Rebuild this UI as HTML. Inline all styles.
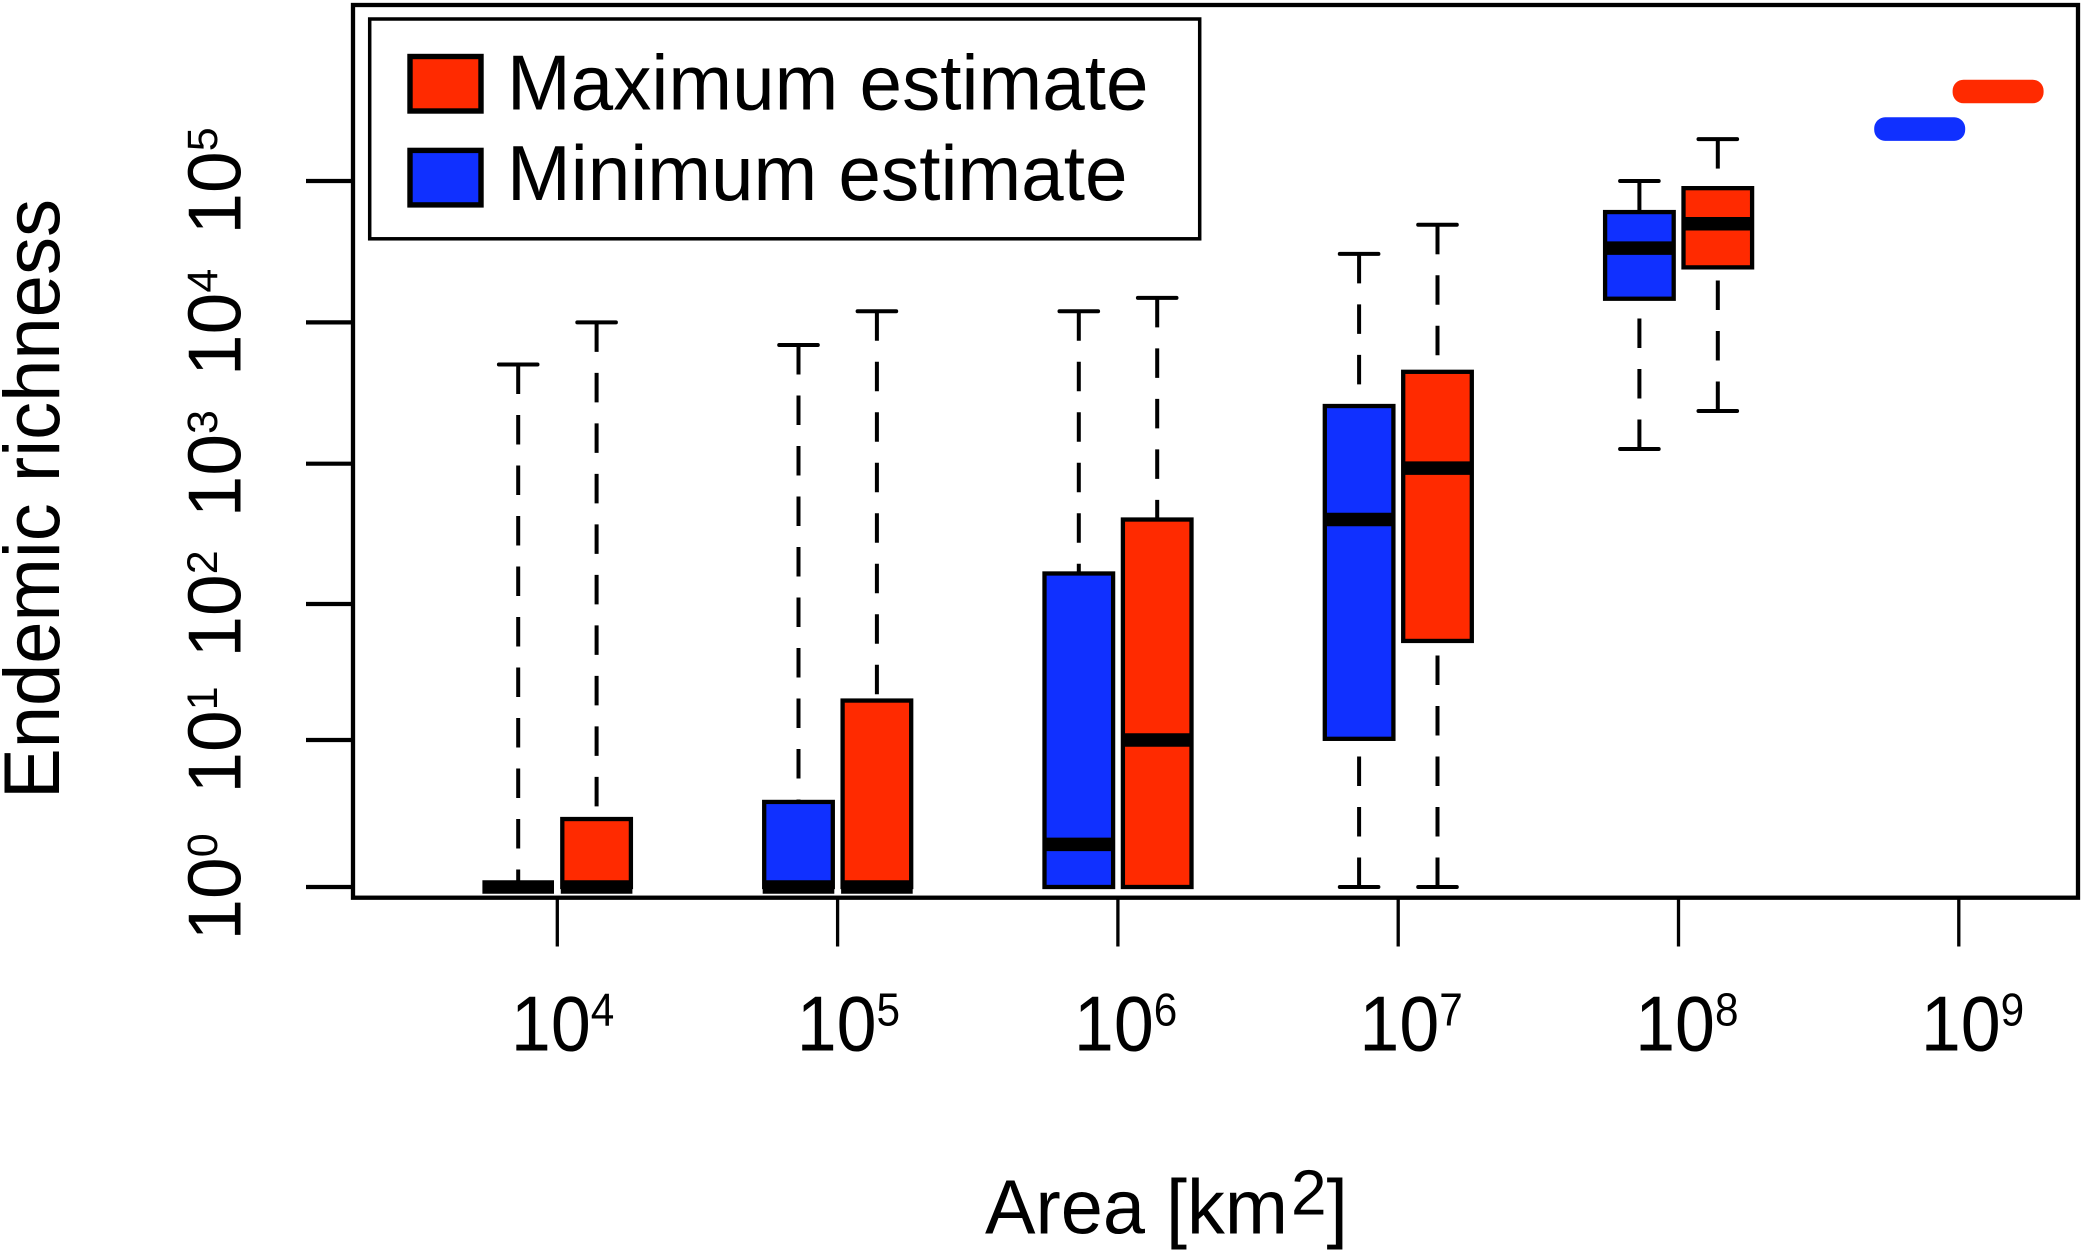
<!DOCTYPE html>
<html lang="en">
<head>
<meta charset="utf-8">
<title>Endemic richness by area</title>
<style>
html,body{margin:0;padding:0;background:#fff;}
svg{display:block;}
text{font-family:"Liberation Sans",Arial,sans-serif;fill:#000;}
</style>
</head>
<body>
<svg id="chart" xmlns="http://www.w3.org/2000/svg" width="2083" height="1252" viewBox="0 0 2083 1252">
  <rect x="0" y="0" width="2083" height="1252" fill="#fff"/>
  <g id="marks"></g>
  <rect x="353" y="5" width="1725" height="892.7" fill="none" stroke="#000" stroke-width="4.3"/>
  <g id="yaxis"></g>
  <g id="xaxis"></g>
  <g>
    <rect x="369.7" y="19" width="830" height="219.8" fill="#fff" stroke="#000" stroke-width="3.5"/>
    <rect x="410" y="56.5" width="71" height="54.5" fill="#ff2a00" stroke="#000" stroke-width="5.4"/>
    <text x="507" y="109.4" font-size="78" textLength="641.5" lengthAdjust="spacingAndGlyphs">Maximum estimate</text>
    <rect x="410" y="150.4" width="71" height="54.5" fill="#1030ff" stroke="#000" stroke-width="5.4"/>
    <text x="507" y="200" font-size="78" textLength="620.5" lengthAdjust="spacingAndGlyphs">Minimum estimate</text>
  </g>
  <text transform="translate(59,799) rotate(-90)" font-size="79" textLength="600" lengthAdjust="spacingAndGlyphs">Endemic richness</text>
  <g>
    <text x="985" y="1233.5" font-size="77" textLength="303" lengthAdjust="spacingAndGlyphs">Area [km</text>
    <text x="1291" y="1214.5" font-size="64">2</text>
    <text x="1326.5" y="1233.5" font-size="77">]</text>
  </g>
</svg>
<script>
// ---- Data ----
const categories = [4, 5, 6, 7, 8, 9];
const yTickExponents = [0, 1, 2, 3, 4, 5];

const minLow    = [1, 1, 1, 1, 1270, 233000];
const minQ1     = [1, 1, 1, 10.2, 14700, 233000];
const minMedian = [1, 1, 1.95, 400, 33500, 233000];
const minQ3     = [1, 3.79, 165, 2560, 60300, 233000];
const minHigh   = [5035, 6920, 12000, 30500, 100000, 233000];

const maxLow    = [1, 1, 1, 1, 2360, 430000];
const maxQ1     = [1, 1, 1, 53.5, 24500, 430000];
const maxMedian = [1, 1, 10, 930, 49900, 430000];
const maxQ3     = [2.9, 19.5, 400, 4470, 89000, 430000];
const maxHigh   = [10000, 12000, 14900, 49000, 198000, 430000];

// ---- Axis functions ----
function xScale(i) {
  return 557.3 + 280.3 * i;
}
function yScale(v) {
  // The published axis has slightly uneven decades, so each decade has its own span.
  const decadeTop = [887, 740, 604, 463.7, 322.4, 181];
  const d = Math.log10(v);
  if (d >= 5) return 181 - (d - 5) * 141.3;
  const k = Math.max(0, Math.floor(d));
  return decadeTop[k] + (decadeTop[k + 1] - decadeTop[k]) * (d - k);
}

// ---- Drawing ----
const NS = 'http://www.w3.org/2000/svg';
function make(tag, parent, props) {
  const el = document.createElementNS(NS, tag);
  for (const k in props) el.setAttribute(k, props[k]);
  parent.appendChild(el);
  return el;
}

const marks = document.getElementById('marks');
const seriesList = [
  { key: 'minimum', offset: -39.1, fill: '#1030ff', low: minLow, q1: minQ1, med: minMedian, q3: minQ3, high: minHigh },
  { key: 'maximum', offset: 39.3, fill: '#ff2a00', low: maxLow, q1: maxQ1, med: maxMedian, q3: maxQ3, high: maxHigh }
];
const BOX_HALF = 34.3, CAP_HALF = 19.3, PILL_HALF = 45.5;
const WHISKER = { stroke: '#000', 'stroke-width': 4 };

categories.forEach(function (exp, i) {
  seriesList.forEach(function (s) {
    const cx = xScale(i) + s.offset;
    const tag = s.key + '-1e' + exp;

    if (s.low[i] === s.high[i]) {
      const pill = make('rect', marks, {
        x: cx - PILL_HALF, y: yScale(s.med[i]) - 11.8,
        width: PILL_HALF * 2, height: 23.6, rx: 11, ry: 11, fill: s.fill
      });
      
      
      return;
    }

    const yHigh = yScale(s.high[i]);
    const yQ3 = yScale(s.q3[i]);
    const upper = make('line', marks, Object.assign({
      x1: cx, x2: cx, y1: yHigh, y2: yQ3, 'stroke-dasharray': '29.5 21'
    }, WHISKER));
    
    
    const upperCap = make('line', marks, Object.assign({
      x1: cx - CAP_HALF, x2: cx + CAP_HALF, y1: yHigh, y2: yHigh, 'stroke-linecap': 'round'
    }, WHISKER));
    
    

    const yLow = yScale(s.low[i]);
    const yQ1 = yScale(s.q1[i]);
    if (yLow - yQ1 > 1) {
      const lower = make('line', marks, Object.assign({
        x1: cx, x2: cx, y1: yLow, y2: yQ1, 'stroke-dasharray': '29.5 21'
      }, WHISKER));
      
      
      const lowerCap = make('line', marks, Object.assign({
        x1: cx - CAP_HALF, x2: cx + CAP_HALF, y1: yLow, y2: yLow, 'stroke-linecap': 'round'
      }, WHISKER));
      
      
    }

    const box = make('rect', marks, {
      x: cx - BOX_HALF, y: yQ3, width: BOX_HALF * 2, height: Math.max(0, yQ1 - yQ3),
      fill: s.fill, stroke: '#000', 'stroke-width': 4.3
    });
    
    

    const yMed = yScale(s.med[i]);
    const median = make('line', marks, {
      x1: cx - BOX_HALF - 1.5, x2: cx + BOX_HALF + 1.5, y1: yMed, y2: yMed,
      stroke: '#000', 'stroke-width': 13.5
    });
    
    
  });
});

// Y axis
const yAxis = document.getElementById('yaxis');
yTickExponents.forEach(function (exp) {
  const y = yScale(Math.pow(10, exp));
  const tick = make('line', yAxis, { x1: 306, x2: 353, y1: y, y2: y, stroke: '#000', 'stroke-width': 4.2 });
  
  
  const label = make('text', yAxis, {
    transform: 'translate(240.5,' + y + ') rotate(-90)', 'text-anchor': 'middle', 'font-size': 75
  });
  
  
  label.appendChild(document.createTextNode('10'));
  const sup = make('tspan', label, { dy: -23.3, 'font-size': 43 });
  sup.textContent = String(exp);
});

// X axis
const xAxis = document.getElementById('xaxis');
const xLabelNudge = { 4: 5.3, 5: 10.8, 6: 7.7, 7: 12.9, 8: 8.3, 9: 13.7 };
categories.forEach(function (exp, i) {
  const x = xScale(i);
  const tick = make('line', xAxis, { x1: x, x2: x, y1: 897, y2: 946.5, stroke: '#000', 'stroke-width': 3.3 });
  
  
  const label = make('text', xAxis, {
    transform: 'translate(' + (x + xLabelNudge[exp]) + ',1050.5) scale(0.92,1)',
    'text-anchor': 'middle', 'font-size': 78
  });
  
  
  label.appendChild(document.createTextNode('10'));
  const sup = make('tspan', label, { dy: -25, 'font-size': 46 });
  sup.textContent = String(exp);
});
</script>
</body>
</html>
